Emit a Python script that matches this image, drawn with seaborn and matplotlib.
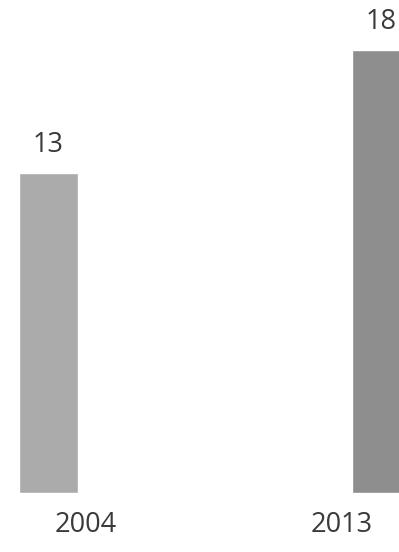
import matplotlib
matplotlib.use("Agg")
import matplotlib.pyplot as plt
import matplotlib.transforms as mtransforms
import seaborn as sns
import pandas as pd

years = ["2004", "2013"]
values = [13, 18]
colors = ["#ababab", "#8e8e8e"]

sns.set_theme(style="white")
plt.rcParams['font.family'] = ['Open Sans', 'DejaVu Sans']

fig = plt.figure(figsize=(3.99, 5.52), dpi=100)
H = 552.0
ax = fig.add_axes([0, 59 / H, 1, (H - 59) / H])

df = pd.DataFrame({"year": years, "value": values})
sns.barplot(data=df, x="year", y="value", hue="year", palette=colors,
            width=59 / 333, legend=False, ax=ax, saturation=1)

scale = 443 / 18
ax.set_xlim(-48.5 / 333, (399 - 48.5) / 333)
ax.set_ylim(0, 493 / scale)

for c in ax.containers:
    ax.bar_label(c, fmt="%d", padding=10, fontsize=19.5, color="#3a3a3a")

ax.set_xlabel("")
ax.set_ylabel("")
ax.set_yticks([])
ax.tick_params(axis="x", length=0, pad=13, labelsize=19.5, labelcolor="#3a3a3a")
for s in ax.spines.values():
    s.set_visible(False)

offsets = [0.375, -0.395]
for lbl, dx in zip(ax.get_xticklabels(), offsets):
    lbl.set_transform(lbl.get_transform() + mtransforms.ScaledTranslation(dx, 0, fig.dpi_scale_trans))

fig.savefig("out.png", dpi=100)
